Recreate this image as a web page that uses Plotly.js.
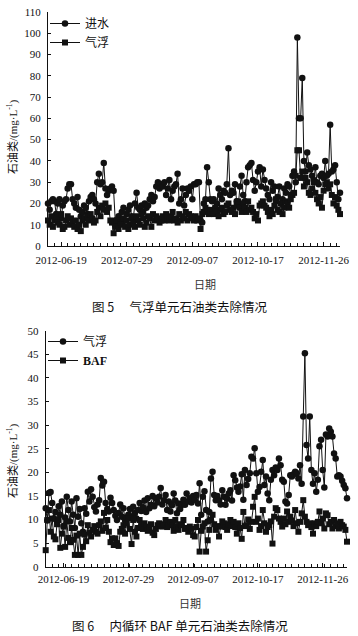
<!DOCTYPE html>
<html>
<head>
<meta charset="utf-8">
<script src="https://cdn.plot.ly/plotly-3.0.1.min.js"></script>
<style>
html,body{margin:0;padding:0;background:#fff;}
#chart{width:358px;height:636px;}
</style>
</head>
<body>
<div id="chart"></div>
<script>
// ---------- Figure 5 data (daily, 2012-06-11 .. 2012-12-06) ----------
const fig5Start = "2012-06-11";
const fig5Inflow = [ // 进水
20,17,21,22,21,15,20,22,13,19,
21,22,27,29,29,22,20,18,23,17,
14,16,19,18,15,21,23,24,22,20,
30,34,29,30,39,27,24,26,27,28,
26,12,10,14,12,16,18,12,15,17,
19,14,13,20,25,18,17,19,16,20,
18,19,22,24,21,23,28,30,27,29,
28,30,24,27,31,22,26,28,29,34,
20,22,27,19,24,27,26,28,22,29,
29,30,30,12,11,20,22,37,30,22,
21,22,18,20,27,24,22,26,25,29,
46,24,26,25,29,21,19,28,33,24,
21,30,37,38,39,31,26,30,35,37,
28,36,31,27,24,22,30,26,28,21,
23,28,20,22,27,25,29,28,24,33,
35,30,98,60,60,79,40,35,44,38,
36,33,31,37,30,29,33,34,32,40,
33,34,57,35,36,38,30,22,25];
const fig5Flotation = [ // 气浮
12,10,14,9,12,13,11,10,15,8,
9,12,14,10,13,11,9,12,8,10,
7,12,13,10,14,12,15,13,11,12,
16,18,14,19,17,20,16,18,12,11,
6,9,12,8,11,10,13,9,12,8,
10,13,11,9,14,12,10,15,13,9,
11,14,13,9,15,12,14,13,11,12,
14,12,15,13,12,14,16,12,13,11,
15,12,14,13,16,12,15,14,13,12,
14,12,13,8,15,16,18,17,15,16,
17,15,18,16,14,17,18,15,16,19,
20,17,16,18,15,19,21,18,16,20,
18,16,21,17,18,16,13,15,12,19,
20,21,19,18,16,14,17,15,19,22,
17,16,20,15,18,21,20,18,22,24,
25,33,45,45,32,35,28,32,30,25,
24,27,30,25,22,20,23,18,26,29,
30,27,29,24,20,23,19,17,15];

// ---------- Figure 6 data (daily, 2012-06-08 .. 2012-12-11) ----------
const fig6Start = "2012-06-08";
const fig6Flotation = [ // 气浮
12.4,9.8,15.6,15.8,13.5,10.2,11.6,9.5,12.8,11.0,
13.8,8.6,10.4,14.8,12.0,9.6,13.8,11.0,8.2,14.5,
10.6,12.2,9.2,7.4,12.4,11.2,15.9,13.8,16.4,14.8,
12.6,11.7,13.2,14.1,18.8,17.2,18.0,13.5,12.2,11.7,
14.6,13.5,12.0,10.8,9.9,11.4,13.2,10.6,12.4,9.8,
10.4,11.0,12.2,10.6,12.7,11.4,10.2,12.0,13.5,11.8,
12.6,14.0,11.6,14.5,12.4,13.1,15.0,12.8,14.5,13.6,
14.8,16.7,13.2,14.1,15.2,12.0,13.8,11.7,13.0,15.5,
14.0,11.3,13.4,12.2,13.1,14.2,13.1,15.5,13.8,14.5,
13.6,15.0,14.2,15.2,13.4,17.7,11.0,14.8,16.0,12.0,
9.6,11.6,18.7,20.1,15.2,14.1,15.0,14.1,13.2,16.2,
14.8,13.1,14.4,15.5,16.2,14.0,19.4,18.3,16.8,15.9,
17.0,19.6,14.2,20.5,17.3,18.6,19.8,23.3,22.9,25.1,
19.8,15.9,16.9,20.1,22.6,17.3,19.1,15.5,14.1,18.4,
20.5,19.4,21.0,20.5,22.9,21.5,18.4,18.0,13.8,13.4,
15.2,19.4,19.1,19.6,20.1,19.8,18.7,21.5,17.6,31.8,
45.2,25.8,22.9,31.8,20.5,17.6,19.8,15.9,18.4,25.5,
26.9,20.5,16.8,28.0,27.6,29.3,28.6,27.6,24.0,22.9,
19.1,19.4,19.1,18.2,17.3,16.6,14.5];
const fig6BAF = [ // BAF
3.5,9.9,12.0,7.4,10.2,6.4,5.8,9.0,9.9,4.0,
7.0,8.5,4.2,9.6,6.1,5.2,8.2,5.7,2.5,6.6,
2.5,7.0,2.5,4.2,6.8,5.4,8.8,7.2,6.4,7.8,
8.6,7.4,7.0,8.8,9.6,7.6,11.4,8.2,9.9,7.4,
5.2,6.0,4.6,6.0,5.0,4.4,7.4,8.0,8.8,7.0,
9.2,10.3,8.0,4.8,9.9,7.4,6.4,8.2,9.9,9.0,
8.0,9.2,8.5,7.6,8.2,9.0,7.2,6.7,8.0,8.8,
9.2,8.6,8.5,9.0,9.9,8.4,8.8,9.5,8.8,7.6,
9.9,8.6,7.8,9.0,8.8,9.9,8.0,8.2,7.4,8.5,
8.0,6.7,6.4,8.4,9.9,3.2,7.6,8.5,9.2,3.2,
5.6,7.8,9.9,11.0,9.0,7.8,8.6,6.4,8.5,9.6,
9.2,8.4,7.8,9.0,9.9,8.6,9.5,8.4,7.0,9.2,
8.2,5.9,11.6,8.6,8.8,10.0,8.0,9.5,12.7,14.8,
9.5,10.2,7.8,8.6,12.0,9.2,7.4,8.4,8.8,9.6,
4.9,10.6,12.4,12.0,10.2,9.5,8.5,10.2,9.0,11.7,
9.5,10.6,9.8,8.6,12.0,9.2,7.4,9.5,11.3,14.1,
10.6,9.5,8.8,9.2,8.4,7.0,9.2,8.6,9.5,11.7,
9.2,10.2,8.1,11.3,10.9,9.0,9.5,8.1,9.9,8.6,
9.2,8.1,9.5,8.8,8.5,7.8,5.3];

const tickDates = ["2012-06-19","2012-07-29","2012-09-07","2012-10-17","2012-11-26"];
const fig5Names = ["进水","气浮"];
const fig6Names = ["气浮","<b>BAF</b>"];

function dateSeries(start, n){
  const out=[]; const t0=Date.parse(start+"T00:00:00Z");
  for(let i=0;i<n;i++){ out.push(new Date(t0+i*86400000).toISOString().slice(0,10)); }
  return out;
}
const x5 = dateSeries(fig5Start, fig5Inflow.length);
const x6 = dateSeries(fig6Start, fig6Flotation.length);

const W=358,H=636;
const px=v=>v/W, py=v=>1-v/H;
const SERIF="Liberation Serif, Noto Sans CJK SC, serif";
const CJK="Noto Sans CJK SC, sans-serif";
const INK="#111";

function tr(x,y,name,sym,xa,ya,leg){
  return {x:x,y:y,name:name,type:"scatter",mode:"lines+markers",xaxis:xa,yaxis:ya,legend:leg,
    cliponaxis:false,
    line:{color:INK,width:1},
    marker:{symbol:sym,size:sym==="square"?6:6.5,color:INK}};
}
const data=[
  tr(x5,fig5Inflow,fig5Names[0],"circle","x","y","legend"),
  tr(x5,fig5Flotation,fig5Names[1],"square","x","y","legend"),
  tr(x6,fig6Flotation,fig6Names[0],"circle","x2","y2","legend2"),
  tr(x6,fig6BAF,fig6Names[1],"square","x2","y2","legend2")
];

function xaxisCfg(dom,first,last,standoff){
  return {domain:dom,type:"date",range:[first,last],tickvals:tickDates,ticktext:tickDates,
    showline:true,linecolor:INK,linewidth:1,ticks:"inside",ticklen:4,tickcolor:INK,
    ticklabelstandoff:standoff,
    showgrid:false,zeroline:false,tickfont:{family:SERIF,size:11,color:INK},
    minor:{dtick:4*86400000,tick0:first,ticks:"inside",ticklen:3,tickcolor:INK,showgrid:false}};
}
function yaxisCfg(dom,max,dt,anchor){
  return {domain:dom,range:[0,max],dtick:dt,anchor:anchor,showline:true,linecolor:INK,linewidth:1,
    ticks:"inside",ticklen:3,tickcolor:INK,showgrid:false,zeroline:false,
    ticklabelstandoff:4,tickfont:{family:SERIF,size:11,color:INK}};
}
function ann(x,y,text,size,opts){
  return Object.assign({xref:"paper",yref:"paper",x:px(x),y:py(y),text:text,showarrow:false,
    xanchor:"center",yanchor:"middle",font:{family:SERIF,size:size,color:INK}},opts||{});
}

const layout={
  width:W,height:H,margin:{l:0,r:0,t:0,b:0},paper_bgcolor:"#fff",plot_bgcolor:"#fff",
  font:{family:SERIF,color:INK},
  xaxis:Object.assign(xaxisCfg([px(48),px(340)],x5[0],x5[x5.length-1],4),{anchor:"y"}),
  yaxis:yaxisCfg([py(246),py(12)],110,10,"x"),
  xaxis2:Object.assign(xaxisCfg([px(45.7),px(347)],x6[0],x6[x6.length-1],2),{anchor:"y2"}),
  yaxis2:yaxisCfg([py(566.7),py(330.7)],50,5,"x2"),
  legend:{x:px(45),y:py(9),xanchor:"left",yanchor:"top",bgcolor:"rgba(0,0,0,0)",
    font:{family:SERIF,size:12,color:INK},tracegroupgap:0,itemwidth:30},
  legend2:{x:px(43),y:py(327),xanchor:"left",yanchor:"top",bgcolor:"rgba(0,0,0,0)",
    font:{family:SERIF,size:12,color:INK},tracegroupgap:0,itemwidth:30},
  annotations:[
    ann(12,137,"石油类/(mg·L<sup>-1</sup>)",11,{textangle:-90}),
    ann(12,461,"石油类/(mg·L<sup>-1</sup>)",11,{textangle:-90}),
    ann(205,284,"日期",11,{font:{family:CJK,size:11,color:"#333"}}),
    ann(190,603,"日期",11,{font:{family:CJK,size:11,color:"#333"}}),
    ann(180,307,"图 5　 气浮单元石油类去除情况",12.5,{font:{family:CJK,size:12.5,color:INK}}),
    ann(180,625,"图 6　 内循环 BAF 单元石油类去除情况",12.5,{font:{family:CJK,size:12.5,color:INK}})
  ]
};
Plotly.newPlot("chart",data,layout,{staticPlot:true,displayModeBar:false});
</script>
</body>
</html>
